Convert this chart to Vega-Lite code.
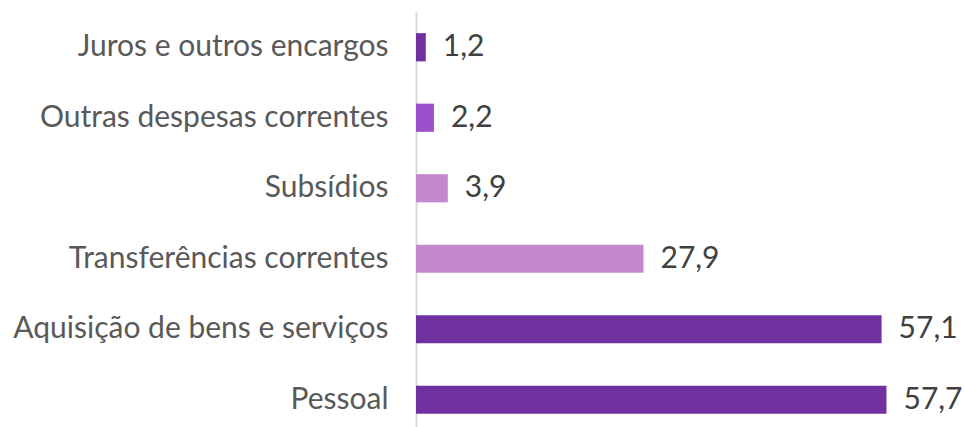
{
  "$schema": "https://vega.github.io/schema/vega-lite/v6.json",
  "autosize": {"type": "none"},
  "padding": {"left": 416, "top": 12, "right": 18, "bottom": 0},
  "width": 530,
  "height": 423,
  "background": "white",
  "data": {"values": [
    {"cat": "Juros e outros encargos", "v": 1.2, "label": "1,2", "grp": "a"},
    {"cat": "Outras despesas correntes", "v": 2.2, "label": "2,2", "grp": "b"},
    {"cat": "Subsídios", "v": 3.9, "label": "3,9", "grp": "c"},
    {"cat": "Transferências correntes", "v": 27.9, "label": "27,9", "grp": "c"},
    {"cat": "Aquisição de bens e serviços", "v": 57.1, "label": "57,1", "grp": "a"},
    {"cat": "Pessoal", "v": 57.7, "label": "57,7", "grp": "a"}
  ]},
  "encoding": {
    "y": {"field": "cat", "type": "nominal", "sort": null,
      "scale": {"paddingInner": 0.6, "paddingOuter": 0.3},
      "axis": {"title": null, "ticks": false, "labelPadding": 28, "labelFont": "Lato", "labelFontSize": 30, "labelColor": "#595959", "domainColor": "#D9D9D9", "domainWidth": 2, "labelLimit": 500}},
    "x": {"field": "v", "type": "quantitative", "scale": {"domain": [0, 65], "nice": false}, "axis": null}
  },
  "layer": [
    {"mark": {"type": "bar"},
     "encoding": {"color": {"field": "grp", "type": "nominal", "legend": null,
       "scale": {"domain": ["a", "b", "c"], "range": ["#7030A0", "#9B50CC", "#C588D0"]}}}},
    {"mark": {"type": "text", "align": "left", "dx": 17, "font": "Lato", "fontSize": 30, "color": "#404040", "baseline": "middle"},
     "encoding": {"text": {"field": "label"}}}
  ],
  "config": {"view": {"stroke": null}}
}
